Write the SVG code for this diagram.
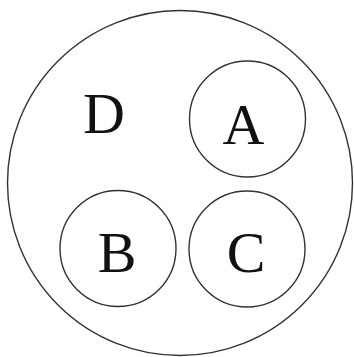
<svg xmlns="http://www.w3.org/2000/svg" width="354" height="357" viewBox="0 0 354 357">
<style>
.c{fill:none;stroke:#333;stroke-width:1.4}
.t{font-family:"Liberation Serif","Times New Roman",serif;font-size:58px;fill:#111;text-anchor:middle}
</style>
<rect width="354" height="357" fill="#fff"/>
<g id="D"><circle class="c" cx="180" cy="183" r="172.5"/><text class="t" x="104" y="133">D</text></g>
<g id="A"><circle class="c" cx="247.5" cy="119" r="58"/><text class="t" x="243.5" y="144">A</text></g>
<g id="B"><circle class="c" cx="118" cy="248.5" r="58"/><text class="t" x="117" y="272">B</text></g>
<g id="C"><circle class="c" cx="247" cy="249" r="58"/><text class="t" x="246" y="272">C</text></g>
<g id="connectors"></g>
</svg>
